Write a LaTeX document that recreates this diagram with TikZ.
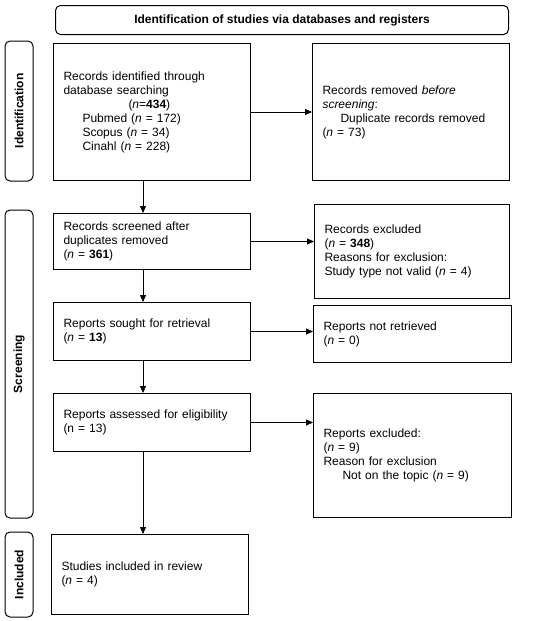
\documentclass[tikz,border=0pt]{standalone}
\usepackage{fontspec}
\setmainfont{Liberation Sans}
\usepackage{tikz}
\usetikzlibrary{arrows.meta}
\newcommand{\nn}{\textit{n}}
\begin{document}
\begin{tikzpicture}[x=1pt,y=-1pt,
  box/.style={draw,line width=1pt,anchor=north west,align=left,inner xsep=10pt,font=\fontsize{12}{14}\selectfont},
  side/.style={draw,line width=1pt,rounded corners=5pt,rotate=90,minimum height=28pt,inner sep=0pt,font=\fontsize{12}{14}\selectfont\bfseries},
  arr/.style={line width=0.8pt,-{Triangle[length=7pt,width=6pt]}}]
\useasboundingbox (0,0) rectangle (550,621);
\node[draw,line width=1pt,rounded corners=5pt,anchor=north west,minimum width=453pt,minimum height=29pt,font=\fontsize{12}{14}\selectfont\bfseries] (head) at (55,5) {Identification of studies via databases and registers};
\node[side,minimum width=140pt] (sideid) at (19,111) {Identification};
\node[side,minimum width=308pt] (sidescr) at (19,364) {Screening};
\node[side,minimum width=85pt] (sideinc) at (19,574.5) {Included};
\node[box,text width=177pt,minimum height=137pt] (ident) at (53,43) {Records identified through\\database searching\\\hspace*{65pt}(\nn=\textbf{434})\\\hspace*{19pt}Pubmed (\nn{} = 172)\\\hspace*{19pt}Scopus (\nn{} = 34)\\\hspace*{19pt}Cinahl (\nn{} = 228)};
\node[box,text width=177pt,minimum height=137pt] (removed) at (312,43) {Records removed \textit{before}\\\textit{screening}:\\\hspace*{18pt}Duplicate records removed\\(\nn{} = 73)};
\node[box,text width=177pt,minimum height=56pt] (screened) at (53,213) {Records screened after\\duplicates removed\\(\nn{} = \textbf{361})};
\node[box,text width=175pt,minimum height=94pt] (excl) at (314,204) {Records excluded\\(\nn{} = \textbf{348})\\Reasons for exclusion:\\Study type not valid (\nn{} = 4)};
\node[box,text width=177pt,minimum height=58pt] (sought) at (53,302) {Reports sought for retrieval\\(\nn{} = \textbf{13})};
\node[box,text width=178pt,minimum height=57pt] (notret) at (313,305) {Reports not retrieved\\(\nn{} = 0)};
\node[box,text width=177pt,minimum height=58pt] (assess) at (53,393) {Reports assessed for eligibility\\(n = 13)};
\node[box,text width=178pt,minimum height=124pt] (repexcl) at (313,393) {Reports excluded:\\(\nn{} = 9)\\Reason for exclusion\\\hspace*{19pt}Not on the topic (\nn{} = 9)};
\node[box,text width=177pt,minimum height=80pt] (incl) at (51,534) {Studies included in review\\(\nn{} = 4)};
\draw[arr] (ident.east) -- (ident.east -| removed.west);
\draw[arr] (screened.east) -- (screened.east -| excl.west);
\draw[arr] (sought.east) -- (sought.east -| notret.west);
\draw[arr] (assess.east) -- (assess.east -| repexcl.west);
\draw[arr] ([xshift=-9pt]ident.south) -- ([xshift=-9pt]ident.south |- screened.north);
\draw[arr] ([xshift=-9pt]screened.south) -- ([xshift=-9pt]screened.south |- sought.north);
\draw[arr] ([xshift=-9pt]sought.south) -- ([xshift=-9pt]sought.south |- assess.north);
\draw[arr] ([xshift=-9pt]assess.south) -- ([xshift=-9pt]assess.south |- incl.north);
\end{tikzpicture}
\end{document}
